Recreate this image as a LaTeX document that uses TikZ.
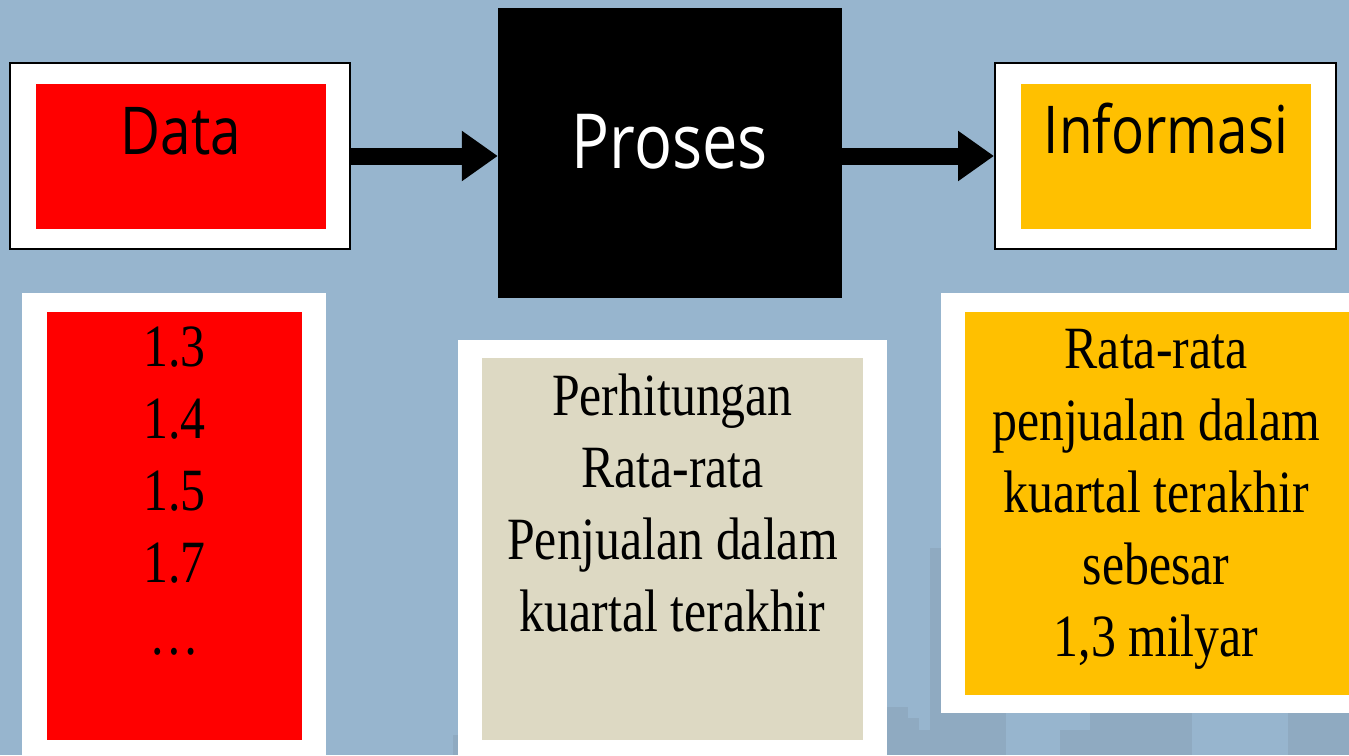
\documentclass[tikz,border=0pt]{standalone}
\usepackage{fontspec}
\setmainfont[FakeStretch=0.83]{Liberation Serif}
\newfontfamily\handfont[FakeStretch=0.83]{Open Sans}
\usetikzlibrary{arrows.meta,positioning}
\definecolor{slidebg}{RGB}{151,181,206}
\definecolor{skyline}{RGB}{143,170,193}
\definecolor{datared}{RGB}{255,0,0}
\definecolor{infogold}{RGB}{255,192,0}
\definecolor{procbeige}{RGB}{221,217,195}
\begin{document}
\begin{tikzpicture}[x=1pt,y=-1pt,
  frame/.style={rectangle, draw=black, line width=2pt, fill=white, inner sep=0pt},
  panel/.style={rectangle, fill=white, inner sep=0pt},
  fillbox/.style={rectangle, inner sep=0pt},
  title/.style={font=\handfont\fontsize{66}{78}\selectfont, anchor=base, inner sep=0pt},
  body/.style={font=\fontsize{60}{72}\selectfont, align=center, anchor=north, inner sep=0pt},
  arrow/.style={-{Triangle[length=36pt,width=48pt]}, line width=17pt}
]
\fill[slidebg] (0,0) rectangle (1349,755);
\useasboundingbox (0,0) rectangle (1349,755);
% faint city skyline
\fill[skyline] (453,735) rectangle (460,755);
\fill[skyline] (887,707) rectangle (908,755);
\fill[skyline] (908,718) rectangle (919,755);
\fill[skyline] (919,730) rectangle (930,755);
\fill[skyline] (930,548) rectangle (941,755);
\fill[skyline] (941,713) rectangle (1006,755);
\fill[skyline] (1060,730) rectangle (1090,755);
\fill[skyline] (1090,713) rectangle (1192,755);
\fill[skyline] (1288,713) rectangle (1349,755);

% top row
\node[frame, minimum width=340pt, minimum height=186pt] (dataOut) at (180,156) {};
\node[fillbox, fill=datared, minimum width=290pt, minimum height=145pt] (dataIn) at (181,156.5) {};
\node[title] (dataLabel) at ([yshift=-71pt]dataIn.north) {Data};

\node[fillbox, fill=black, minimum width=344pt, minimum height=290pt] (proses) at (670,153) {};
\node[title, text=white, font=\handfont\fontsize{76}{88}\selectfont] (prosesLabel) at ([yshift=-15pt]proses.center) {Proses};

\node[frame, minimum width=341pt, minimum height=186pt] (infoOut) at (1165.5,156) {};
\node[fillbox, fill=infogold, minimum width=290pt, minimum height=145pt] (infoIn) at (1166,156.5) {};
\node[title] (infoLabel) at ([yshift=-70pt]infoIn.north) {Informasi};

\draw[arrow] (dataOut.east) -- (proses.west |- dataOut.east);
\draw[arrow] (proses.east |- infoOut.west) -- (infoOut.west);

% bottom row
\node[panel, minimum width=304pt, minimum height=462pt] (listOut) at (174,524) {};
\node[fillbox, fill=datared, minimum width=255pt, minimum height=428pt] (listIn) at (174.5,526) {};
\node[body] (dataList) at ([yshift=-15pt]listIn.north) {1.3\\1.4\\1.5\\1.7\\\dots};

\node[panel, minimum width=429pt, minimum height=415pt] (calcOut) at (672.5,547.5) {};
\node[fillbox, fill=procbeige, minimum width=381pt, minimum height=382pt] (calcIn) at (672.5,549) {};
\node[body] (prosesText) at ([yshift=-16pt]calcIn.north) {Perhitungan\\Rata-rata\\Penjualan dalam\\kuartal terakhir};

\node[panel, minimum width=410pt, minimum height=420pt] (resultOut) at (1146,503) {};
\node[fillbox, fill=infogold, minimum width=386pt, minimum height=383pt] (resultIn) at (1158,503.5) {};
\node[body] (infoText) at ([xshift=-2pt,yshift=-17pt]resultIn.north) {Rata-rata\\penjualan dalam\\kuartal terakhir\\sebesar\\1,3 milyar};
\end{tikzpicture}
\end{document}
